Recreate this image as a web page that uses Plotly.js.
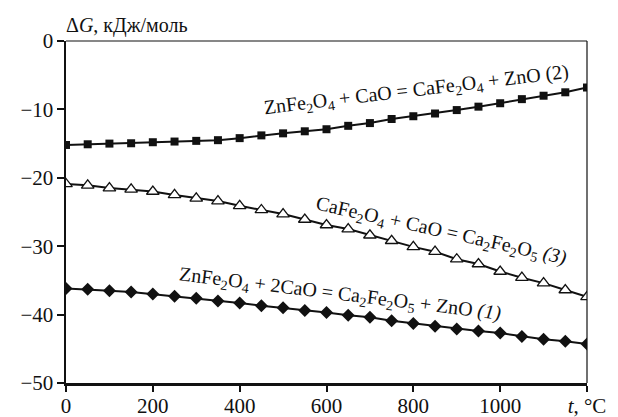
<!DOCTYPE html>
<html>
<head>
<meta charset="utf-8">
<script src="https://cdn.plot.ly/plotly-3.0.1.min.js"></script>
</head>
<body style="margin:0;background:#fff">
<div id="chart"></div>
<script>
// Temperature, °C
var temps = [0,50,100,150,200,250,300,350,400,450,500,550,600,650,700,750,800,850,900,950,1000,1050,1100,1150,1200];
// (1) ZnFe2O4 + 2CaO = Ca2Fe2O5 + ZnO
var dG1 = [-36.2,-36.3,-36.5,-36.7,-37.0,-37.3,-37.6,-38.0,-38.3,-38.7,-39.0,-39.4,-39.7,-40.1,-40.4,-40.9,-41.3,-41.7,-42.1,-42.4,-42.7,-43.2,-43.6,-43.9,-44.3];
// (2) ZnFe2O4 + CaO = CaFe2O4 + ZnO
var dG2 = [-15.2,-15.1,-15.0,-14.95,-14.8,-14.7,-14.6,-14.5,-14.2,-13.8,-13.5,-13.2,-12.9,-12.4,-12.0,-11.4,-11.0,-10.6,-10.1,-9.6,-9.1,-8.5,-8.0,-7.5,-6.8];
// (3) CaFe2O4 + CaO = Ca2Fe2O5
var dG3 = [-20.9,-21.1,-21.5,-21.7,-22.0,-22.5,-23.0,-23.4,-24.1,-24.7,-25.3,-26.1,-26.9,-27.5,-28.4,-29.2,-30.1,-30.8,-31.9,-32.6,-33.7,-34.6,-35.4,-36.4,-37.4];

var xTickVals = [0,200,400,600,800,1000,1200];
var xTickText = ['0','200','400','600','800','1000','<i>t</i>, °C'];
var yTickVals = [0,-10,-20,-30,-40,-50];
var yTickText = ['0','\u221210','\u221220','\u221230','\u221240','\u221250'];

var labels = {
  r1: 'ZnFe<sub>2</sub>O<sub>4</sub> + 2CaO = Ca<sub>2</sub>Fe<sub>2</sub>O<sub>5</sub> + ZnO <i>(1)</i>',
  r2: 'ZnFe<sub>2</sub>O<sub>4</sub> + CaO = CaFe<sub>2</sub>O<sub>4</sub> + ZnO (2)',
  r3: 'CaFe<sub>2</sub>O<sub>4</sub> + CaO = Ca<sub>2</sub>Fe<sub>2</sub>O<sub>5</sub> <i>(3)</i>',
  yTitle: '\u0394<i>G</i>, кДж/моль'
};

var FONT = 'Liberation Serif';

var traces = [
  {x: temps, y: dG2, mode: 'lines+markers', line: {color: '#111', width: 2},
   marker: {symbol: 'square', size: 8, color: '#111'}},
  {x: temps, y: dG3, mode: 'lines+markers', line: {color: '#111', width: 2},
   marker: {symbol: 'triangle-up', size: 11, color: '#fff', line: {color: '#111', width: 1.3}}},
  {x: temps, y: dG1, mode: 'lines+markers', line: {color: '#111', width: 2},
   marker: {symbol: 'diamond', size: 10, color: '#111'}}
];

var layout = {
  width: 618, height: 417,
  margin: {l: 66, r: 31, t: 41, b: 34, pad: 0},
  paper_bgcolor: '#fff', plot_bgcolor: '#fff',
  showlegend: false,
  xaxis: {
    range: [0, 1200], autorange: false,
    tickvals: xTickVals, ticktext: xTickText,
    ticks: 'outside', ticklen: 6, tickwidth: 2, tickcolor: '#111',
    ticklabelstandoff: -4,
    showline: true, linewidth: 2.5, linecolor: '#111', mirror: false,
    showgrid: false, zeroline: false,
    tickfont: {family: FONT, size: 21, color: '#111'}
  },
  yaxis: {
    range: [-50, 0], autorange: false,
    tickvals: yTickVals, ticktext: yTickText,
    ticks: 'outside', ticklen: 7, tickwidth: 2, tickcolor: '#111',
    ticklabelstandoff: -1,
    showline: true, linewidth: 2.5, linecolor: '#111', mirror: false,
    showgrid: false, zeroline: false,
    tickfont: {family: FONT, size: 21, color: '#111'}
  },
  shapes: [
    {type: 'line', xref: 'paper', yref: 'paper', x0: 0, x1: 1, y0: 1, y1: 1, line: {color: '#111', width: 1.2}},
    {type: 'line', xref: 'paper', yref: 'paper', x0: 1, x1: 1, y0: 0, y1: 1, line: {color: '#111', width: 1.2}}
  ],
  annotations: [
    {text: labels.yTitle, xref: 'paper', yref: 'paper', x: 0, y: 1, xanchor: 'left', yanchor: 'bottom',
     xshift: -2, yshift: 2, showarrow: false, font: {family: FONT, size: 20, color: '#111'}},
    {text: labels.r2, x: 808, y: -7.3, xanchor: 'center', yanchor: 'middle', showarrow: false,
     textangle: -6.8, font: {family: FONT, size: 20, color: '#111'}},
    {text: labels.r3, x: 864, y: -27.9, xanchor: 'center', yanchor: 'middle', showarrow: false,
     textangle: 12.4, font: {family: FONT, size: 20, color: '#111'}},
    {text: labels.r1, x: 631, y: -37.1, xanchor: 'center', yanchor: 'middle', showarrow: false,
     textangle: 7, font: {family: FONT, size: 20, color: '#111'}}
  ]
};

Plotly.newPlot('chart', traces, layout, {displayModeBar: false, staticPlot: true});
</script>
</body>
</html>
